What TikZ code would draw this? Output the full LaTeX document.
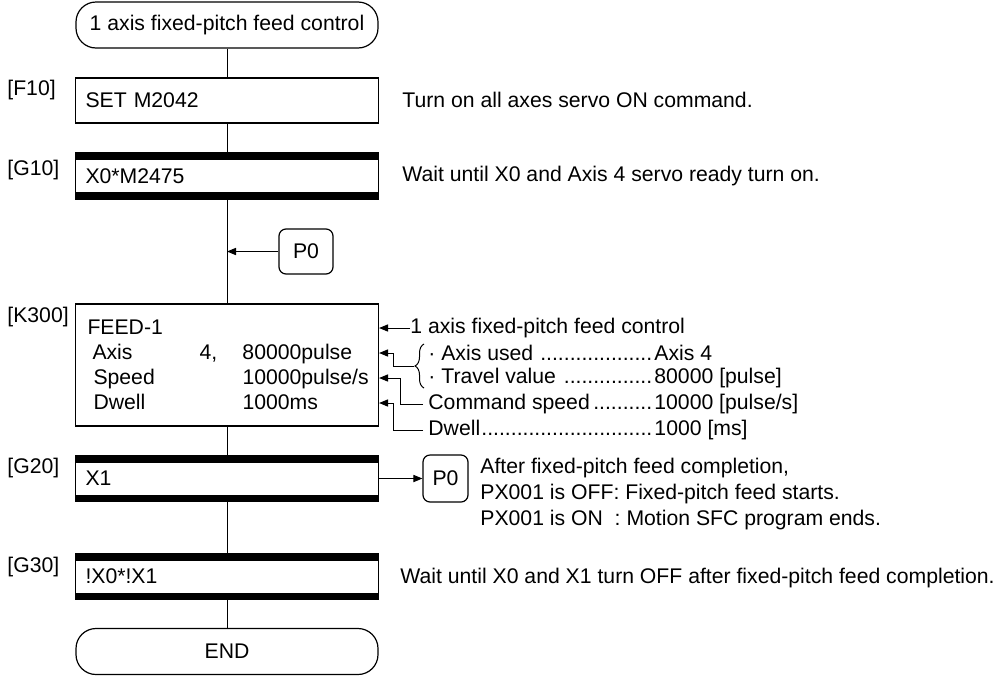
\documentclass[tikz,border=0pt]{standalone}
\usepackage{fontspec}
\setmainfont{Liberation Sans}
\usetikzlibrary{
    arrows.meta,
    decorations.pathreplacing
}
\newcommand\leaderrow[1]{\makebox[113pt][l]{#1\leaders\hbox{.}\hfill}}
\tikzset{
    sfc text/.style={
        font=\fontsize{10.6}{12.5}\selectfont,
        inner sep=0pt
    },
    sfc box/.style={
        sfc text,
        draw,
        line width=0.6pt,
        minimum width=151.5pt,
        minimum height=22.5pt,
        text width=141.5pt,
        inner xsep=5pt,
        align=left
    },
    sfc trans/.style={
        sfc box,
        minimum height=23pt,
        path picture={
            \fill (path picture bounding box.north west) rectangle ([yshift=-3.5pt]path picture bounding box.north east);
            \fill (path picture bounding box.south west) rectangle ([yshift=3.5pt]path picture bounding box.south east);
        }
    },
    sfc term/.style={sfc text, draw, line width=0.6pt, rounded corners=10pt, minimum width=151pt, minimum height=23pt},
    sfc jump/.style={sfc text, draw, line width=0.6pt, rounded corners=3.5pt},
    sfc label/.style={sfc text, anchor=west},
    sfc note/.style={sfc text, anchor=west, align=left},
    sfc flow/.style={line width=0.5pt},
    sfc arrow/.style={-{Triangle[length=4.5pt,width=3.6pt]}, line width=0.5pt}
}

\begin{document}
\begin{tikzpicture}[x=0.5pt, y=-0.5pt]
    \useasboundingbox (0,0) rectangle (999,675);

    % main column
    \node[sfc term] (start) at (227,25) {1 axis fixed-pitch feed control};
    \node[sfc box] (F10) at (227,100.5) {SET M2042};
    \node[sfc trans] (G10) at (227,176) {X0*M2475};
    \node[sfc jump, minimum width=27pt, minimum height=22.5pt] (P0in) at (306,251.5) {P0};
    \node[sfc box, minimum height=61pt, inner xsep=6pt, text width=139.5pt] (K300) at (227,365) {FEED-1\\
        \hspace*{2.5pt}\makebox[53.5pt][l]{Axis}\makebox[21.5pt][l]{4,}80000pulse\\
        \hspace*{3pt}\makebox[74.5pt][l]{Speed}10000pulse/s\\
        \hspace*{3pt}\makebox[74.5pt][l]{Dwell}1000ms};
    \node[sfc trans] (G20) at (227,478.5) {X1};
    \node[sfc jump, minimum width=22.5pt, minimum height=23.5pt] (P0out) at (445.5,478.5) {P0};
    \node[sfc trans] (G30) at (227,576.5) {!X0*!X1};
    \node[sfc term] (END) at (227,651.5) {END};

    % step labels
    \node[sfc label] (lF10) at (7,90) {[F10]};
    \node[sfc label] (lG10) at (7,170) {[G10]};
    \node[sfc label] (lK300) at (7,317) {[K300]};
    \node[sfc label] (lG20) at (7,468) {[G20]};
    \node[sfc label] (lG30) at (7,567) {[G30]};

    % comments
    \node[sfc note] (nF10) at (402,100) {Turn on all axes servo ON command.};
    \node[sfc note] (nG10) at (402,176) {Wait until X0 and Axis 4 servo ready turn on.};
    \node[sfc note, font=\fontsize{10.6}{13}\selectfont] (nG20) at (480,494) {After fixed-pitch feed completion,\\
        PX001 is OFF: Fixed-pitch feed starts.\\
        PX001 is ON\ \ : Motion SFC program ends.};
    \node[sfc note] (nG30) at (400,578) {Wait until X0 and X1 turn OFF after fixed-pitch feed completion.};

    % K300 annotations
    \node[sfc note] (aTitle) at (410,328) {1 axis fixed-pitch feed control};
    \node[sfc note] (aAxis) at (428,353) {\leaderrow{· Axis used }Axis 4};
    \node[sfc note] (aTravel) at (428,378) {\leaderrow{· Travel value }80000 [pulse]};
    \node[sfc note] (aSpeed) at (428,404) {\leaderrow{Command speed}10000 [pulse/s]};
    \node[sfc note] (aDwell) at (428,430) {\leaderrow{Dwell}1000 [ms]};

    \draw[sfc flow, decorate, decoration={brace, amplitude=4.5pt}] (424,388) -- (424,344);
    \coordinate (bTip) at (414,366);
    \coordinate (k2) at (K300.east |- 0,353);
    \coordinate (k3) at (K300.east |- 0,378);
    \coordinate (k4) at (K300.east |- 0,403);
    \coordinate (k2bend) at (393,353);
    \coordinate (k3bend) at (400,378);
    \coordinate (k4bend) at (393,403);

    % connectors
    \draw[sfc flow] (start) -- (F10);
    \draw[sfc flow] (F10) -- (G10);
    \draw[sfc flow] (G10) -- (K300);
    \draw[sfc flow] (K300) -- (G20);
    \draw[sfc flow] (G20) -- (G30);
    \draw[sfc flow] (G30) -- (END);

    \coordinate (join) at (G10.south |- P0in.west);
    \draw[sfc arrow] (P0in) -- (join);
    \draw[sfc arrow] (G20) -- (P0out);

    \draw[sfc arrow] (aTitle.west) -- (aTitle.west -| K300.east);
    \draw[sfc arrow] (bTip) -| (k2bend) -- (k2);
    \draw[sfc arrow, shorten <=2.5pt] (aSpeed.west) -| (k3bend) -- (k3);
    \draw[sfc arrow, shorten <=2.5pt] (aDwell.west) -| (k4bend) -- (k4);
\end{tikzpicture}
\end{document}
